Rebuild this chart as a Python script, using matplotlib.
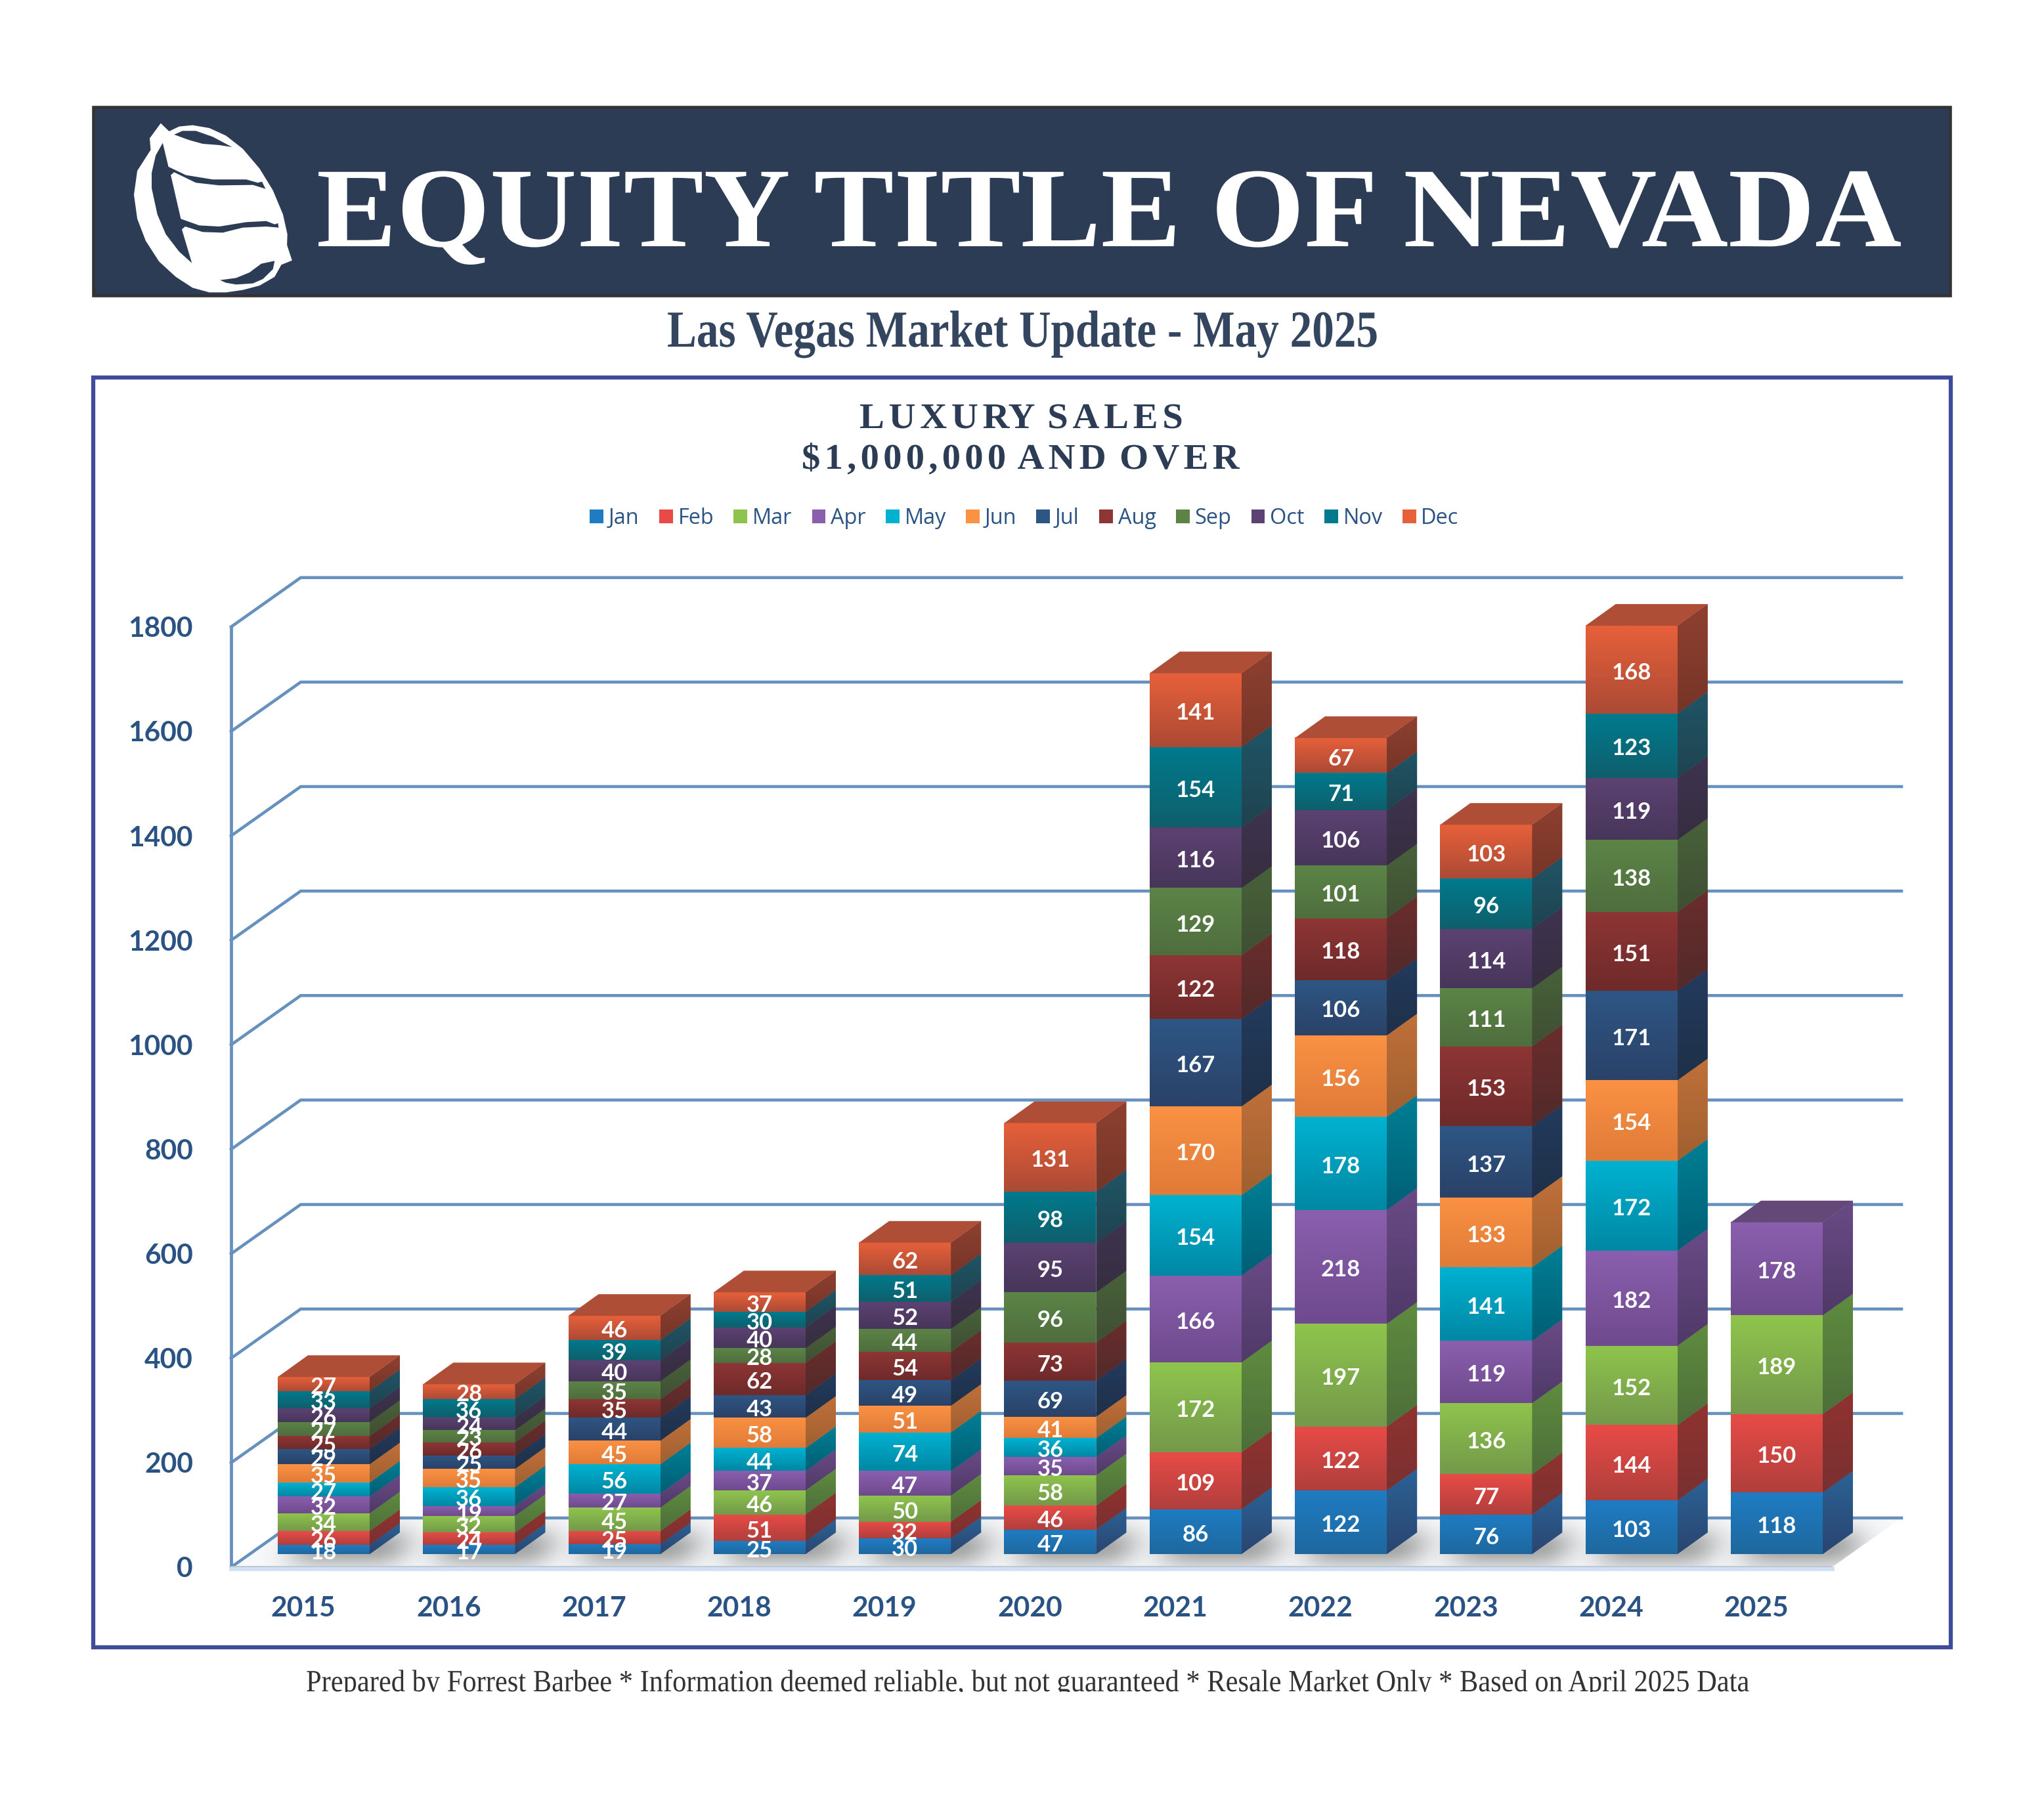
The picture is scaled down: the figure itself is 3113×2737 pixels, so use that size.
import matplotlib
matplotlib.use('Agg')
import matplotlib.pyplot as plt
import numpy as np
from matplotlib.patches import Polygon, Rectangle
from matplotlib.path import Path
from matplotlib.patheffects import AbstractPathEffect
from matplotlib.transforms import Affine2D

# Monthly luxury sales, bottom of the stack first (2025 only runs to April)
years = [2015, 2016, 2017, 2018, 2019, 2020, 2021, 2022, 2023, 2024, 2025]
jan = [18, 17, 19, 25, 30, 47, 86, 122, 76, 103, 118]
feb = [26, 24, 25, 51, 32, 46, 109, 122, 77, 144, 150]
mar = [34, 32, 45, 46, 50, 58, 172, 197, 136, 152, 189]
apr = [32, 19, 27, 37, 47, 35, 166, 218, 119, 182, 178]
may = [27, 36, 56, 44, 74, 36, 154, 178, 141, 172]
jun = [35, 35, 45, 58, 51, 41, 170, 156, 133, 154]
jul = [29, 25, 44, 43, 49, 69, 167, 106, 137, 171]
aug = [25, 26, 35, 62, 54, 73, 122, 118, 153, 151]
sep = [27, 23, 35, 28, 44, 96, 129, 101, 111, 138]
oct_ = [26, 24, 40, 40, 52, 95, 116, 106, 114, 119]
nov = [33, 36, 39, 30, 51, 98, 154, 71, 96, 123]
dec = [27, 28, 46, 37, 62, 131, 141, 67, 103, 168]

months = ['Jan', 'Feb', 'Mar', 'Apr', 'May', 'Jun', 'Jul', 'Aug', 'Sep', 'Oct', 'Nov', 'Dec']
series = [jan, feb, mar, apr, may, jun, jul, aug, sep, oct_, nov, dec]
yticks = [0, 200, 400, 600, 800, 1000, 1200, 1400, 1600, 1800]

# front top, front bottom, side top, side bottom, top face
palette = [
    ('#1F7CC2', '#1E689F', '#2B6296', '#2A4570', '#2A5C8C'),
    ('#E84B47', '#B03F3C', '#8F3330', '#7A3030', '#A63C3A'),
    ('#8EC44D', '#74994A', '#5F8C3F', '#4D6E3A', '#6E9A42'),
    ('#8A5FAE', '#6F4A8E', '#6A4A86', '#4F3A68', '#644878'),
    ('#00B2D0', '#0088A5', '#007F95', '#005F75', '#007F95'),
    ('#FA9143', '#E07B38', '#C0703A', '#A06030', '#C0703A'),
    ('#2E5684', '#2A4268', '#233B5E', '#1F3048', '#233B5E'),
    ('#8E3535', '#6F2A2A', '#6B2D2D', '#522A2A', '#6B2D2D'),
    ('#5C8447', '#4F6E3E', '#48623A', '#3F4F33', '#48623A'),
    ('#5C4272', '#47365A', '#3F3350', '#362E40', '#3F3350'),
    ('#007A8C', '#0F5F6C', '#1F5566', '#204350', '#1F5566'),
    ('#E6603A', '#AC4A35', '#8E4030', '#763528', '#AE4E37'),
]

NAVY = '#2C3C55'
TICK_BLUE = '#2A5384'
GRID_BLUE = '#6690BE'
FRAME_BLUE = '#3F4B9B'

W, H = 3113, 2737
DPI = 300

# pixel scales of the chart
PX_PER_YEAR = 221.3
PX_PER_SALE = 0.7957
X0 = 493.0            # centre of the 2015 bar
AX_L, AX_R, AX_B, AX_T = 352, 2896, 2387, 860


class Stretch(AbstractPathEffect):
    """Scales glyphs horizontally and adds letter spacing (track is in pixels)."""

    def __init__(self, sx, track=0.0):
        super().__init__()
        self.sx = sx
        self.track = track

    def draw_path(self, renderer, gc, tpath, affine, rgbFace=None):
        verts = tpath.vertices.copy()
        if self.track:
            # contours whose x ranges overlap belong to one glyph
            starts = list(np.flatnonzero(tpath.codes == Path.MOVETO)) + [len(verts)]
            shift = self.track / affine.get_matrix()[0, 0]
            glyph, right = 0, None
            for a, b in zip(starts[:-1], starts[1:]):
                x0, x1 = verts[a:b, 0].min(), verts[a:b, 0].max()
                if right is not None and x0 >= right:
                    glyph += 1
                right = x1 if right is None else max(right, x1)
                verts[a:b, 0] += glyph * shift / self.sx
        renderer.draw_path(gc, Path(verts, tpath.codes), Affine2D().scale(self.sx, 1) + affine, rgbFace)


def fit_text(ax, x0, x1, y, s, sx=None, **kw):
    """Place s so it runs from x0 to x1, by stretching it or, with sx given, by tracking it."""
    t = ax.text(x0, y, s, ha='left', va='baseline', **kw)
    w = t.get_window_extent(fig.canvas.get_renderer()).width
    if sx is None:
        t.set_path_effects([Stretch((x1 - x0) / w)])
    else:
        n = len(s.replace(' ', ''))
        t.set_path_effects([Stretch(sx, (x1 - x0 - sx * w) / (n - 1))])
    return t


def gradient(ax, patch, c_top, c_bot, zorder):
    """Paint a vertical gradient inside a patch."""
    xy = patch.get_path().transformed(patch.get_patch_transform()).vertices
    c = np.linspace(matplotlib.colors.to_rgb(c_top), matplotlib.colors.to_rgb(c_bot), 32)[:, None, :]
    ax.imshow(c, extent=(xy[:, 0].min(), xy[:, 0].max(), xy[:, 1].min(), xy[:, 1].max()),
              aspect='auto', origin='upper', interpolation='bilinear', zorder=zorder,
              clip_path=patch, clip_on=True)


def blur(a, sigma):
    k = np.exp(-0.5 * (np.arange(-3 * sigma, 3 * sigma + 1) / sigma) ** 2)
    k /= k.sum()
    a = np.apply_along_axis(lambda r: np.convolve(r, k, mode='same'), 1, a)
    return np.apply_along_axis(lambda r: np.convolve(r, k, mode='same'), 0, a)


fig = plt.figure(figsize=(W / DPI, H / DPI), dpi=DPI, facecolor='white')

# page furniture, in pixel coordinates
page = fig.add_axes([0, 0, 1, 1])
page.set_xlim(0, W)
page.set_ylim(H, 0)
page.axis('off')

page.add_patch(Rectangle((142, 163), 2828, 287, facecolor=NAVY, edgecolor='#333333', linewidth=1.1))

def logo_xy(pts):
    return [(130 + x / 1.96, 150 + y / 3) for x, y in pts]

sail = [(225, 113), (250, 150), (280, 128), (320, 122), (370, 135), (420, 170), (470, 230), (520, 320),
        (560, 420), (590, 530), (603, 620), (602, 670), (617, 740), (585, 760), (565, 815), (520, 855),
        (470, 875), (420, 886), (370, 886), (320, 865), (270, 815), (220, 745), (180, 650), (155, 550),
        (145, 440), (155, 330), (195, 235), (192, 182)]
gap_main = [(231, 203), (248, 312), (300, 350), (380, 370), (480, 370), (515, 385), (527, 380), (538, 413),
            (500, 395), (400, 397), (330, 385), (265, 337), (255, 350), (285, 550), (340, 580), (400, 585),
            (480, 565), (540, 560), (565, 575), (575, 570), (577, 590), (540, 585), (470, 590), (410, 613),
            (350, 610), (298, 585), (288, 598), (318, 752), (280, 700), (240, 620), (215, 530), (198, 410),
            (198, 340), (210, 260)]
gap_top = [(265, 165), (290, 148), (330, 148), (380, 175), (438, 222), (400, 213), (350, 207), (310, 190)]
gap_bottom = [(402, 830), (450, 820), (490, 795), (525, 755), (565, 742), (560, 780), (530, 825),
              (500, 845), (450, 850), (420, 842)]
page.add_patch(Polygon(logo_xy(sail), facecolor='white', edgecolor='none'))
for gap in (gap_main, gap_top, gap_bottom):
    page.add_patch(Polygon(logo_xy(gap), facecolor=NAVY, edgecolor='none'))

fit_text(page, 482, 2896, 375, 'EQUITY TITLE OF NEVADA', family='Liberation Serif', weight='bold',
         size=41.5, color='white')
fit_text(page, 1016, 2098, 528, 'Las Vegas Market Update - May 2025', family='Liberation Serif', weight='bold',
         size=19, color='#34455F')
fit_text(page, 1309, 1809, 652, 'LUXURY SALES', sx=1.03, family='Liberation Serif', weight='bold',
         size=13.2, color=NAVY)
fit_text(page, 1221, 1888, 714, '$1,000,000 AND OVER', sx=1.03, family='Liberation Serif', weight='bold',
         size=13.2, color=NAVY)
fit_text(page, 466, 2669, 2576,
         'Prepared by Forrest Barbee * Information deemed reliable, but not guaranteed * '
         'Resale Market Only * Based on April 2025 Data',
         family='Liberation Serif', size=11.3, color='#333333')
# descenders are cut off in the reference
page.add_patch(Rectangle((0, 2577), W, 60, facecolor='white', edgecolor='none', zorder=5))
page.add_patch(Rectangle((142, 574.5), 2829, 1934, facecolor='none', edgecolor=FRAME_BLUE, linewidth=1.5))

# chart axes: x in years, y in sales, depth drawn as an oblique offset
ax = fig.add_axes([AX_L / W, 1 - AX_B / H, (AX_R - AX_L) / W, (AX_B - AX_T) / H])
ax.patch.set_visible(False)
for s in ax.spines.values():
    s.set_visible(False)

xlim = (2015 + (AX_L - X0) / PX_PER_YEAR, 2015 + (AX_R - X0) / PX_PER_YEAR)
ylim = (0, (AX_B - AX_T) / PX_PER_SALE)

bar_w = 140 / PX_PER_YEAR
bar_dx = 46 / PX_PER_YEAR
bar_dy = 33 / PX_PER_SALE
wall_dx = 106 / PX_PER_YEAR
wall_dy = 75 / PX_PER_SALE
lift = 20 / PX_PER_SALE   # bars stand this far behind the front of the floor

# wall and gridlines
x_l = xlim[0]
x_r = xlim[1]
for v in yticks:
    ax.plot([x_l, x_l + wall_dx, x_r], [v, v + wall_dy, v + wall_dy], color=GRID_BLUE, lw=1.1,
            zorder=2, clip_on=False, solid_joinstyle='miter')
ax.plot([x_l, x_l], [0, yticks[-1]], color=GRID_BLUE, lw=1.15, zorder=2, clip_on=False)

# floor and soft shadows under the bars
floor_right = x_r - wall_dx
floor = Polygon([(x_l, 0), (floor_right, 0), (x_r, wall_dy), (x_l + wall_dx, wall_dy)],
                facecolor='#F7F8F9', edgecolor='none', zorder=1)
ax.add_patch(floor)
gx = np.arange(AX_L, AX_R + 1, 1.0)
gx = 2015 + (gx - X0) / PX_PER_YEAR
gy = np.arange(-40, 140, 1.0) / PX_PER_SALE
mask = np.zeros((gy.size, gx.size))
for yr in years:
    for j, v in enumerate(gy):
        t = (v - lift + 8) / bar_dy
        if 0 <= t <= 1.0:
            left = yr - bar_w / 2 + t * bar_dx + 0.02
            mask[j, (gx >= left) & (gx <= left + bar_w + 0.12)] = 1
shade = np.zeros(mask.shape + (4,))
shade[..., :3] = 0.3
shade[..., 3] = np.clip(blur(mask, 19) * 0.8, 0, 1)
ax.imshow(shade, extent=(gx[0], gx[-1], gy[0], gy[-1]), origin='lower', aspect='auto',
          interpolation='bilinear', zorder=1.5, clip_path=floor, clip_on=True)
ax.plot([x_l, floor_right], [-2, -2], color='#CFE0F2', lw=1.6, zorder=2, clip_on=False)
ax.plot([x_l, floor_right], [1, 1], color='#B9C4D0', lw=0.4, zorder=2, clip_on=False)

# stacked blocks
tops = np.full(len(years), lift)
handles = []
zo = 10
for name, vals, cols in zip(months, series, palette):
    n = len(vals)
    rects = ax.bar(years[:n], vals, width=bar_w, bottom=tops[:n], color=cols[0], label=name,
                   linewidth=0, zorder=zo)
    handles.append(Rectangle((0, 0), 1, 1, facecolor=cols[0], edgecolor='none'))
    for rect, yr, v, b in zip(rects, years, vals, tops):
        x1 = yr + bar_w / 2
        gradient(ax, rect, cols[0], cols[1], zo + 0.1)
        side = Polygon([(x1, b), (x1 + bar_dx, b + bar_dy), (x1 + bar_dx, b + v + bar_dy), (x1, b + v)],
                       facecolor=cols[2], edgecolor='none', zorder=zo)
        ax.add_patch(side)
        gradient(ax, side, cols[2], cols[3], zo + 0.1)
    tops[:n] += vals
    zo += 1

# top face belongs to the last month of each stack
for i, (yr, top) in enumerate(zip(years, tops)):
    last = max(k for k, s in enumerate(series) if len(s) > i)
    x0 = yr - bar_w / 2
    ax.add_patch(Polygon([(x0, top), (x0 + bar_w, top), (x0 + bar_w + bar_dx, top + bar_dy), (x0 + bar_dx, top + bar_dy)],
                         facecolor=palette[last][4], edgecolor='none', zorder=30))

# value labels go on top of everything, small blocks overlap like the reference
tops = np.full(len(years), lift)
for vals in series:
    for i, v in enumerate(vals):
        ax.text(years[i], tops[i] + v / 2 - 6, str(v), ha='center', va='center', color='white',
                family='Lato', weight='bold', size=8.3, zorder=40)
        tops[i] += v

ax.set_xlim(xlim)
ax.set_ylim(ylim)
ax.set_xticks(np.array(years) - 31 / PX_PER_YEAR, [str(y) for y in years])
ax.set_yticks(yticks, [str(v) for v in yticks])
ax.tick_params(axis='both', length=0, labelcolor=TICK_BLUE)
ax.tick_params(axis='x', pad=10.5)
ax.tick_params(axis='y', pad=13.9)
for lab in ax.get_xticklabels() + ax.get_yticklabels():
    lab.set_family('Lato')
    lab.set_weight('bold')
    lab.set_size(10.2)

leg = ax.legend(handles, months, ncol=12, frameon=False, loc='center', bbox_transform=fig.transFigure,
                bbox_to_anchor=(1560 / W, 1 - 789 / H), prop={'family': 'Open Sans', 'size': 7.8},
                handlelength=0.64, handleheight=0.62, handletextpad=0.24, columnspacing=0.93,
                labelcolor=TICK_BLUE, borderpad=0)

fig.savefig('out.png', dpi=DPI)
